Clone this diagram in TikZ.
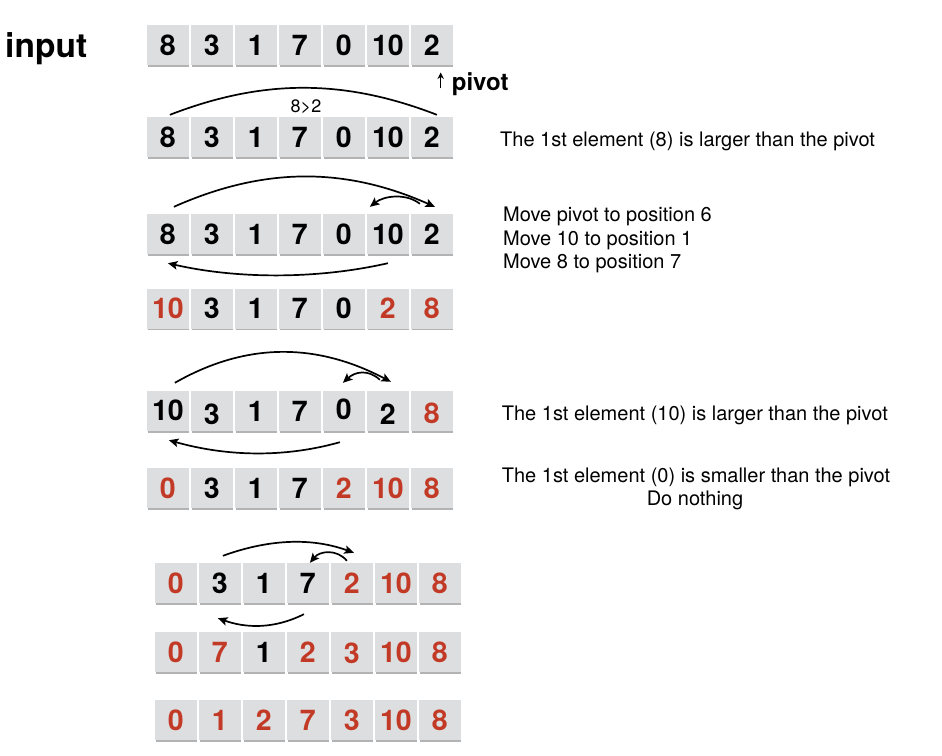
\documentclass[tikz,border=0pt]{standalone}
\usepackage{fontspec}
\setmainfont{TeX Gyre Heros}
\usetikzlibrary{shadows,arrows.meta}
\definecolor{cellgray}{RGB}{221,222,224}
\definecolor{numred}{RGB}{194,58,38}
\newcommand\cellrow[4]{%
  \foreach \v/\c/\dy [count=\i] in {#4} {%
    \node[cell,text=\c] (#1c\i) at ({#2+20.9+(\i-1)*44},{#3+20}) {\raisebox{\dy pt}{\v}};
  }}
\begin{document}
\begin{tikzpicture}[x=1pt,y=-1pt,
  cell/.style={minimum width=41.8pt,minimum height=40pt,inner sep=0pt,
    text height=20pt,text depth=0pt,fill=cellgray,draw=none,
    drop shadow={shadow xshift=0.6pt,shadow yshift=-1.8pt,fill=black!35,opacity=0.85},
    font=\fontsize{28.5}{29}\selectfont\bfseries},
  desc/.style={inner sep=0pt,font=\fontsize{20}{24}\selectfont},
  arc/.style={line width=1.7pt},
  arcarrow/.style={line width=1.7pt,-{Stealth[length=9.5pt,width=8.5pt,inset=2pt]}}]
\useasboundingbox (0,0) rectangle (942,755);

% title texts
\node[inner sep=0pt,anchor=base west,font=\fontsize{33.5}{34}\selectfont\bfseries] (input) at (5,57) {input};
\node[inner sep=0pt,anchor=base west,font=\fontsize{24}{24}\selectfont\bfseries] (pivot) at (451.7,90) {pivot};
\coordinate (pvtail) at (440.7,88.3);
\coordinate (pvtip) at (440.7,72.5);
\draw[line width=1.5pt,-{Stealth[length=6.5pt,width=6.5pt]}] (pvtail) -- (pvtip);

% rows
\cellrow{r1}{147}{25}{8/black/0,3/black/0,1/black/0,7/black/0,0/black/0,10/black/0,2/black/0}
\cellrow{r2}{147}{117}{8/black/0,3/black/0,1/black/0,7/black/0,0/black/0,10/black/0,2/black/0}
\cellrow{r3}{147}{214}{8/black/0,3/black/0,1/black/0,7/black/0,0/black/0,10/black/0,2/black/0}
\cellrow{r4}{147}{288.5}{10/numred/0,3/black/0,1/black/0,7/black/0,0/black/0,2/numred/0,8/numred/0}
\cellrow{r5}{147}{391}{10/black/1,3/black/-3,1/black/0,7/black/0,0/black/2,2/black/-3,8/numred/-2}
\cellrow{r6}{147}{468}{0/numred/0,3/black/0,1/black/0,7/black/0,2/numred/0,10/numred/0,8/numred/0}
\cellrow{r7}{155}{563}{0/numred/0,3/black/0,1/black/0,7/black/0,2/numred/0,10/numred/0,8/numred/0}
\cellrow{r8}{155}{632}{0/numred/0,7/numred/0,1/black/0,2/numred/0,3/numred/-1,10/numred/0,8/numred/0}
\cellrow{r9}{155}{700}{0/numred/0,1/numred/0,2/numred/0,7/numred/0,3/numred/0,10/numred/0,8/numred/0}

% row 2 comparison arc
\draw[arc] ([shift={(2,-2)}]r2c1.north) .. controls +(93,-36) and +(-93,-36) .. ([shift={(5,-2)}]r2c7.north);
\node[inner sep=0pt,font=\fontsize{18}{18}\selectfont] (lbl) at (306,106.5) {8>2};

% row 3 arrows
\draw[arcarrow] ([shift={(6,-7)}]r3c1.north) .. controls +(90,-40) and +(-90,-40) .. ([shift={(3,-7)}]r3c7.north);
\draw[arcarrow] ([shift={(-12,-10)}]r3c7.north) .. controls +(-14,-11) and +(14,-11) .. ([shift={(-18,-7)}]r3c6.north);
\draw[arcarrow] ([shift={(0,9)}]r3c6.south) .. controls +(-70,16) and +(70,16) .. ([shift={(0,9)}]r3c1.south);

% row 5 arrows
\draw[arcarrow] ([shift={(7,-8)}]r5c1.north) .. controls +(70,-40) and +(-76,-40) .. ([shift={(3,-9)}]r5c6.north);
\draw[arcarrow] ([shift={(-8,-11)}]r5c6.north) .. controls +(-12,-11) and +(12,-11) .. ([shift={(-1,-8)}]r5c5.north);
\draw[arcarrow] ([shift={(-4,11)}]r5c5.south) .. controls +(-57,16) and +(57,16) .. ([shift={(1,9)}]r5c1.south);

% row 7 arrows
\draw[arcarrow] ([shift={(3,-7)}]r7c2.north) .. controls +(44,-16) and +(-44,-16) .. ([shift={(2,-10)}]r7c5.north);
\draw[arcarrow] ([shift={(-5,-2)}]r7c5.north) .. controls +(-10,-12) and +(10,-12) .. ([shift={(2,0)}]r7c4.north);
\draw[arcarrow] ([shift={(-4,11)}]r7c4.south) .. controls +(-30,15) and +(28,10) .. ([shift={(-2,15)}]r7c2.south);

% descriptions
\node[desc,anchor=base west] (t1) at (500,146.7) {The 1st element (8) is larger than the pivot};
\node[desc,anchor=base west] (t2) at (503,221.7) {Move pivot to position 6};
\node[desc,anchor=base west] (t3) at (503,245) {Move 10 to position 1};
\node[desc,anchor=base west] (t4) at (503,268.3) {Move 8 to position 7};
\node[desc,anchor=base west] (t5) at (501.7,420) {The 1st element (10) is larger than the pivot};
\node[desc,anchor=base west] (t6) at (501.7,482.3) {The 1st element (0) is smaller than the pivot};
\node[desc,anchor=base] (t7) at (695,505) {Do nothing};
\end{tikzpicture}
\end{document}
